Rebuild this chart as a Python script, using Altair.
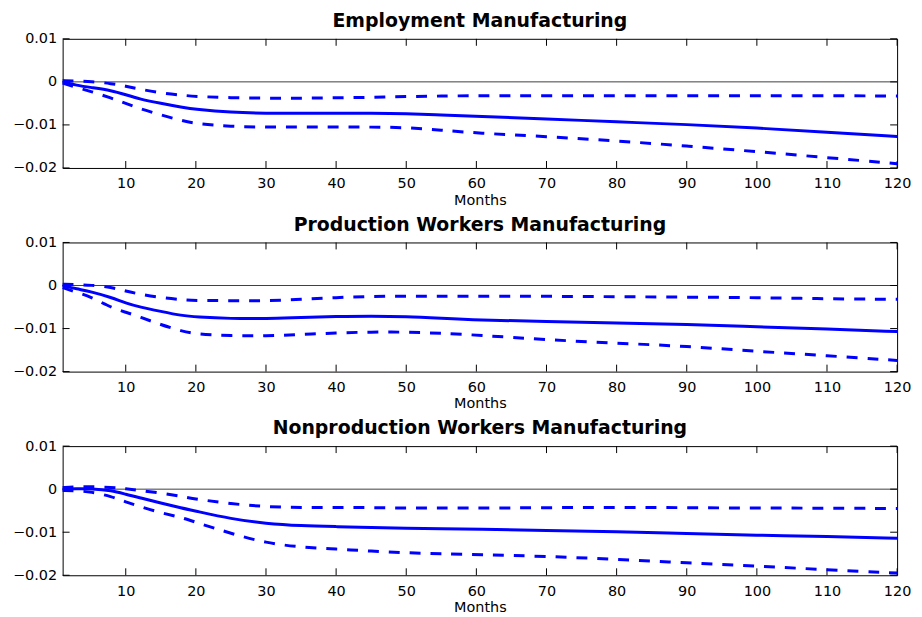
import altair as alt
import pandas as pd

# ---- data ----
months = [1, 3, 5, 8, 10, 12, 15, 18, 20, 25, 30, 35, 40, 45, 50, 55, 60, 70, 80, 90, 100, 110, 120]

titles = ["Employment Manufacturing",
          "Production Workers Manufacturing",
          "Nonproduction Workers Manufacturing"]

emp_irf = [0.0, -0.0008, -0.0013, -0.0020, -0.0030, -0.0040, -0.0050, -0.0059, -0.0064, -0.0071, -0.0073, -0.0073,
           -0.0073, -0.0073, -0.0074, -0.0077, -0.0080, -0.0086, -0.0093, -0.0099, -0.0107, -0.0117, -0.0127]
emp_hi = [0.0003, 0.0002, 0.0001, -0.0004, -0.0010, -0.0017, -0.0026, -0.0031, -0.0034, -0.0037, -0.0038, -0.0038,
          -0.0037, -0.0036, -0.0034, -0.0033, -0.0032, -0.0032, -0.0032, -0.0032, -0.0032, -0.0032, -0.0033]
emp_lo = [-0.0003, -0.0013, -0.0022, -0.0038, -0.0050, -0.0062, -0.0077, -0.0090, -0.0097, -0.0104, -0.0105, -0.0105,
          -0.0105, -0.0105, -0.0106, -0.0112, -0.0119, -0.0127, -0.0137, -0.0149, -0.0162, -0.0176, -0.0190]

prod_irf = [0.0, -0.0008, -0.0014, -0.0028, -0.0041, -0.0050, -0.0060, -0.0070, -0.0073, -0.0077, -0.0077, -0.0074,
            -0.0072, -0.0071, -0.0072, -0.0076, -0.0080, -0.0084, -0.0087, -0.0090, -0.0096, -0.0101, -0.0107]
prod_hi = [0.0003, 0.0002, 0.0001, -0.0004, -0.0013, -0.0020, -0.0028, -0.0033, -0.0035, -0.0035, -0.0036, -0.0032,
           -0.0028, -0.0025, -0.0025, -0.0025, -0.0025, -0.0025, -0.0026, -0.0027, -0.0028, -0.0031, -0.0032]
prod_lo = [-0.0005, -0.0016, -0.0026, -0.0052, -0.0062, -0.0073, -0.0091, -0.0106, -0.0113, -0.0117, -0.0117, -0.0114,
           -0.0110, -0.0108, -0.0108, -0.0111, -0.0115, -0.0126, -0.0134, -0.0141, -0.0153, -0.0163, -0.0174]

non_irf = [0.0, 0.0001, 0.0001, -0.0003, -0.0012, -0.0020, -0.0032, -0.0044, -0.0051, -0.0069, -0.0080, -0.0085,
           -0.0087, -0.0089, -0.0091, -0.0092, -0.0093, -0.0096, -0.0099, -0.0103, -0.0107, -0.0110, -0.0114]
non_hi = [0.0004, 0.0005, 0.0006, 0.0004, 0.0001, -0.0003, -0.0009, -0.0017, -0.0023, -0.0034, -0.0041, -0.0043,
          -0.0042, -0.0043, -0.0044, -0.0044, -0.0044, -0.0043, -0.0042, -0.0043, -0.0044, -0.0044, -0.0045]
non_lo = [-0.0003, -0.0004, -0.0006, -0.0017, -0.0030, -0.0040, -0.0055, -0.0066, -0.0077, -0.0103, -0.0125, -0.0135,
          -0.0139, -0.0144, -0.0148, -0.0150, -0.0152, -0.0156, -0.0163, -0.0171, -0.0179, -0.0187, -0.0195]

x_ticks = [10, 20, 30, 40, 50, 60, 70, 80, 90, 100, 110, 120]
y_ticks = [-0.02, -0.01, 0.0, 0.01]
zero_line = [0.0]

# ---- styling ----
W, H = 840, 130
TICK = 7
BLUE = "#0000ff"
FONT = "DejaVu Sans"


def panel(title, irf, hi, lo):
    n = len(months)
    df = pd.DataFrame({
        "month": months * 3,
        "value": irf + hi + lo,
        "series": ["irf"] * n + ["upper"] * n + ["lower"] * n,
    })
    x_enc = alt.X("month:Q",
                  scale=alt.Scale(domain=[1, 120], nice=False, zero=False),
                  axis=alt.Axis(values=x_ticks, title="Months", format="d", tickSize=0, domain=False,
                                grid=False, labelPadding=9, titlePadding=3, labelFontSize=14.5,
                                titleFontSize=14.5, titleFontWeight="normal", labelFont=FONT,
                                titleFont=FONT, labelColor="black", titleColor="black",
                                labelFlush=False))
    y_enc = alt.Y("value:Q",
                  scale=alt.Scale(domain=[-0.02, 0.01], nice=False, zero=False),
                  axis=alt.Axis(values=y_ticks, title=None, format=".2~f", tickSize=0, domain=False,
                                grid=False, labelPadding=6, labelFontSize=14.5, labelFont=FONT,
                                labelColor="black", labelFlush=False))

    base = alt.Chart(df)
    solid = base.transform_filter(alt.datum.series == "irf").mark_line(
        color=BLUE, strokeWidth=3, interpolate="basis").encode(x=x_enc, y=y_enc)
    dashed = base.transform_filter(alt.datum.series != "irf").mark_line(
        color=BLUE, strokeWidth=3, strokeDash=[11, 10], interpolate="basis").encode(
        x=x_enc, y=y_enc, detail="series:N")

    zero = alt.Chart(pd.DataFrame({"value": zero_line})).mark_rule(
        color="#404040", strokeWidth=1).encode(y=y_enc)

    xt = pd.DataFrame({"month": x_ticks})
    yt = pd.DataFrame({"value": y_ticks})
    xt_top = alt.Chart(xt).mark_rule(color="black", strokeWidth=1).encode(
        x=x_enc, y=alt.value(0), y2=alt.value(TICK))
    xt_bot = alt.Chart(xt).mark_rule(color="black", strokeWidth=1).encode(
        x=x_enc, y=alt.value(H), y2=alt.value(H - TICK))
    yt_left = alt.Chart(yt).mark_rule(color="black", strokeWidth=1).encode(
        y=y_enc, x=alt.value(0), x2=alt.value(TICK))
    yt_right = alt.Chart(yt).mark_rule(color="black", strokeWidth=1).encode(
        y=y_enc, x=alt.value(W), x2=alt.value(W - TICK))

    return alt.layer(zero, xt_top, xt_bot, yt_left, yt_right, dashed, solid).properties(
        width=W, height=H,
        title=alt.Title(title, fontSize=19, font=FONT, fontWeight="bold", color="black",
                        anchor="middle", frame="group", offset=0),
    )


chart = alt.vconcat(
    panel(titles[0], emp_irf, emp_hi, emp_lo),
    panel(titles[1], prod_irf, prod_hi, prod_lo),
    panel(titles[2], non_irf, non_hi, non_lo),
    spacing=7,
).properties(
    padding={"left": 4, "top": 1, "right": 2, "bottom": 0},
    background="white",
).configure_view(
    stroke="black", strokeWidth=1
)

chart.save("out.html", embed_options={"renderer": "svg", "actions": False})
